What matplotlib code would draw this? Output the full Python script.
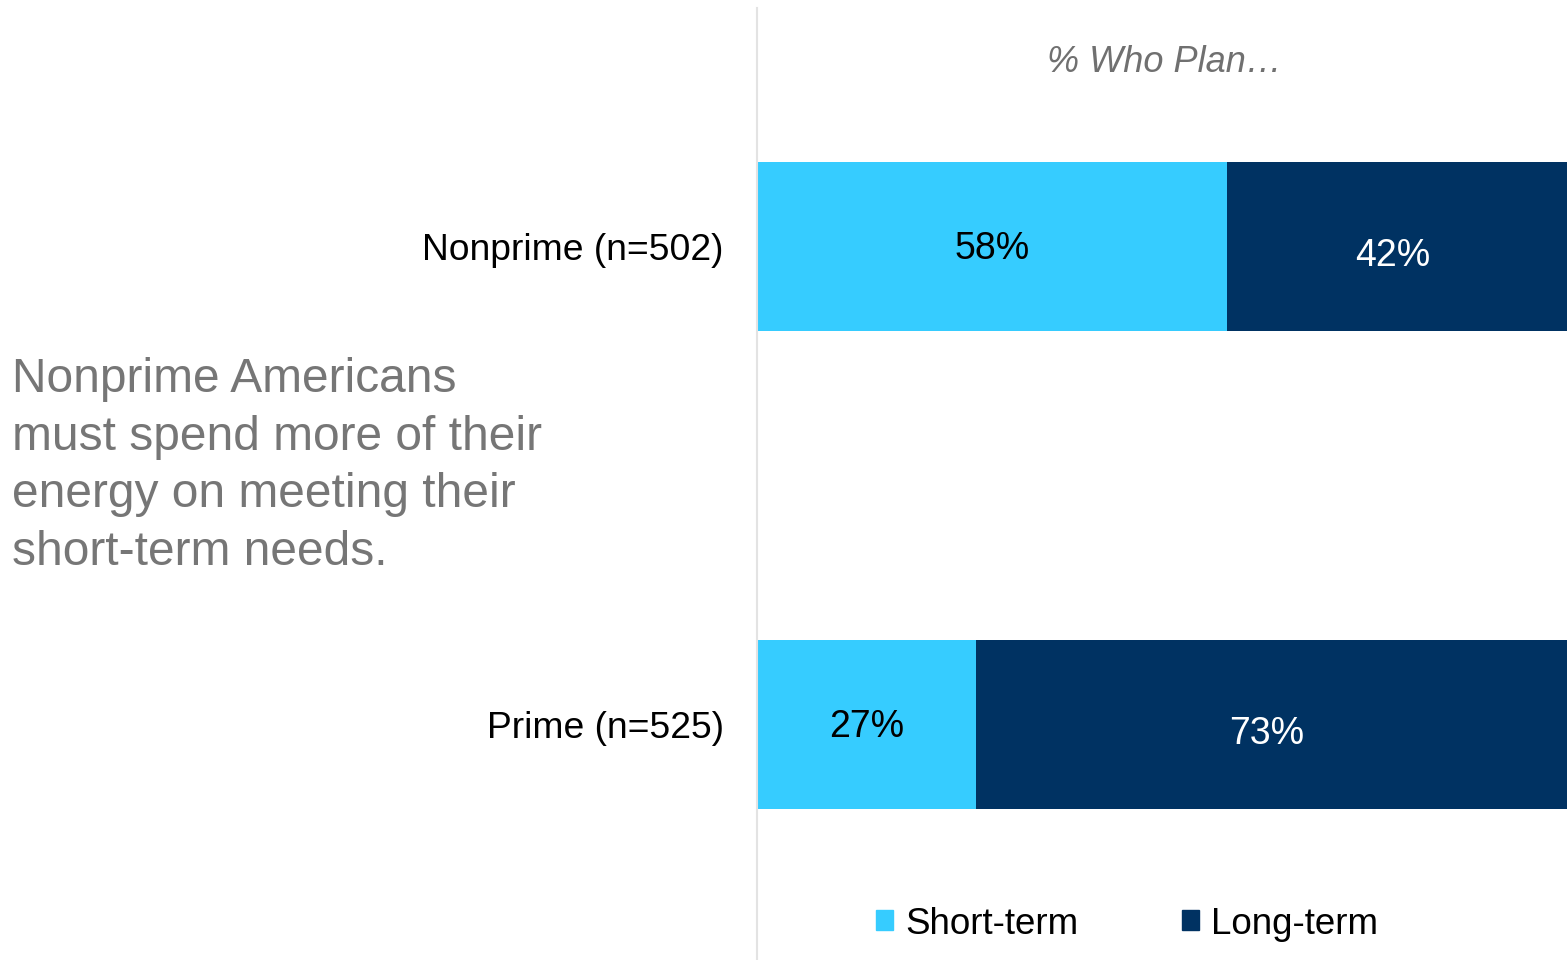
import matplotlib
matplotlib.use('Agg')
import matplotlib.pyplot as plt
from matplotlib.patches import Patch

plt.rcParams['font.family'] = ['Liberation Sans', 'DejaVu Sans']

groups = ['Nonprime (n=502)', 'Prime (n=525)']
short_term = [58, 27]
long_term = [42, 73]
series_names = ['Short-term', 'Long-term']
light_blue = '#36CCFF'
navy = '#003262'

fig = plt.figure(figsize=(15.67, 9.6), dpi=100)
ax = fig.add_axes([757 / 1567, 0, 1 - 757 / 1567, 952 / 960])

ypos = list(range(len(groups)))
b1 = ax.barh(ypos, short_term, height=0.354, color=light_blue, label=series_names[0])
b2 = ax.barh(ypos, long_term, left=short_term, height=0.354, color=navy, label=series_names[1])

# value labels inside each segment
for rect, v in zip(b1, short_term):
    ax.annotate(f'{v}%', (rect.get_x() + rect.get_width() / 2, rect.get_y() + rect.get_height() / 2),
                xytext=(0, -2), textcoords='offset points',
                ha='center', va='center', fontsize=27, color='black')
for rect, v in zip(b2, long_term):
    ax.annotate(f'{v}%', (rect.get_x() + rect.get_width() / 2, rect.get_y() + rect.get_height() / 2),
                xytext=(-3, -7), textcoords='offset points',
                ha='center', va='center', fontsize=27, color='white')

ax.set_xlim(0, 100)
ax.set_ylim(1.493, -0.499)
ax.set_yticks(ypos)
ax.set_yticklabels(groups, fontsize=26.8)
ax.tick_params(axis='y', length=0, pad=24)
ax.set_xticks([])
for s in ['top', 'right', 'bottom']:
    ax.spines[s].set_visible(False)
ax.spines['left'].set_color('#e3e3e3')
ax.spines['left'].set_linewidth(1.5)

fig.text(1164.5 / 1567, 1 - 63 / 960, '% Who Plan\u2026', ha='center', va='center',
         fontsize=26, style='italic', color='#707070')

fig.text(12 / 1567, 1 - 466 / 960,
         'Nonprime Americans\nmust spend more of their\nenergy on meeting their\nshort-term needs.',
         ha='left', va='center', fontsize=34.5, color='#767676', linespacing=1.36)

handles = [Patch(color=light_blue), Patch(color=navy)]
fig.legend(handles, series_names, loc='center', bbox_to_anchor=(1127 / 1567, 1 - 924 / 960),
           ncol=2, frameon=False, fontsize=26.5, handlelength=0.46, handleheight=0.46,
           handletextpad=0.33, columnspacing=2.8)

fig.savefig('out.png', dpi=100)
